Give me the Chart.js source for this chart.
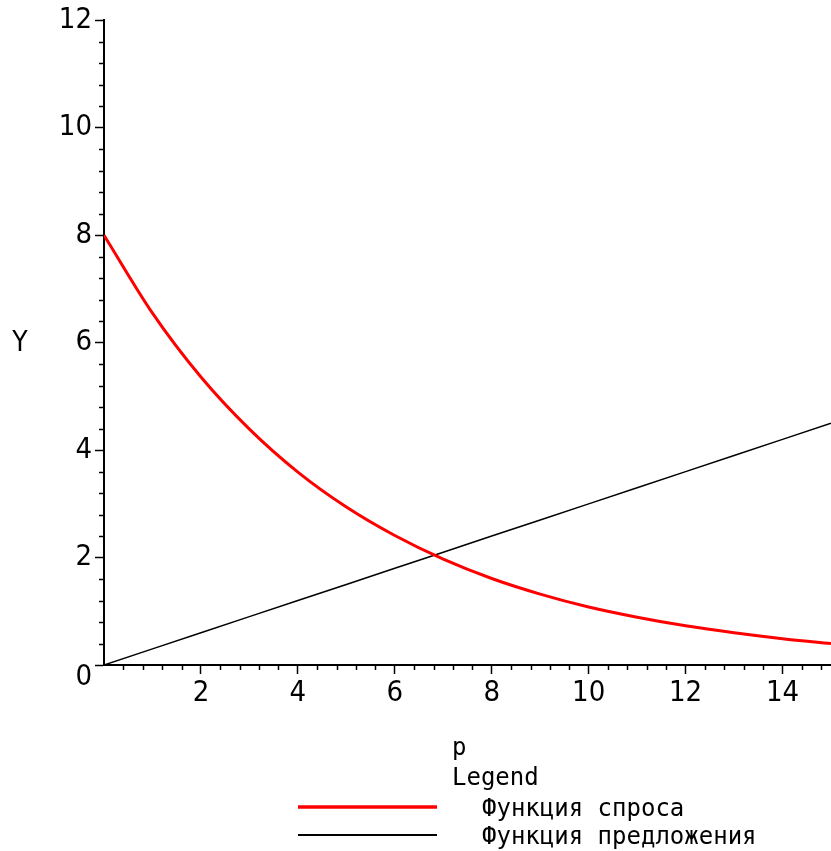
<!DOCTYPE html>
<html>
<head>
<meta charset="utf-8">
<script src="https://cdn.jsdelivr.net/npm/chart.js@4.4.1/dist/chart.umd.min.js"></script>
<style>
  body { margin: 0; background: #fff; }
  canvas { display: block; }
</style>
</head>
<body>
<canvas id="grafico" width="831" height="851"></canvas>
<script>
// p values and the two functions read at each p
const precos = [0, 1, 2, 3, 4, 5, 6, 7, 8, 9, 10, 11, 12, 13, 14, 15];
const procura = [8.0, 6.55, 5.36, 4.39, 3.59, 2.94, 2.41, 1.97, 1.61, 1.32, 1.08, 0.89, 0.73, 0.60, 0.49, 0.40];
const oferta = [0, 0.3, 0.6, 0.9, 1.2, 1.5, 1.8, 2.1, 2.4, 2.7, 3.0, 3.3, 3.6, 3.9, 4.2, 4.5];
const nomes = ["Функция спроса", "Функция предложения"];
const tituloX = "p";
const tituloY = "Y";
const tituloLegenda = "Legend";

const fonteNum = "'Liberation Sans Narrow', 'DejaVu Sans Condensed', 'Liberation Sans', sans-serif";
const fonteMono = "'DejaVu Sans Mono', 'Liberation Mono', monospace";

function pontos(ys) {
  return precos.map((p, i) => ({ x: p, y: ys[i] }));
}

function ehMaior(v) {
  return Math.abs(v / 2 - Math.round(v / 2)) < 1e-6;
}

// small ticks every 0.4 between the labelled ones, titles and legend
const tracosMenores = {
  id: 'tracosMenores',
  afterDraw(chart) {
    const ctx = chart.ctx;
    const sx = chart.scales.x, sy = chart.scales.y;
    const a = chart.chartArea;
    ctx.save();
    ctx.strokeStyle = '#000';
    ctx.lineWidth = 1.5;
    ctx.beginPath();
    for (let k = 1; k * 0.4 < sx.max; k++) {
      const v = k * 0.4;
      if (ehMaior(v)) continue;
      const px = Math.round(sx.getPixelForValue(v)) + 0.5;
      ctx.moveTo(px, a.bottom);
      ctx.lineTo(px, a.bottom + 5);
    }
    for (let k = 1; k * 0.4 < sy.max; k++) {
      const v = k * 0.4;
      if (ehMaior(v)) continue;
      const py = Math.round(sy.getPixelForValue(v)) + 0.5;
      ctx.moveTo(a.left, py);
      ctx.lineTo(a.left - 5, py);
    }
    ctx.stroke();

    ctx.fillStyle = '#000';
    ctx.font = '29px ' + fonteNum;
    // the origin label sits a little under the x axis
    ctx.textAlign = 'right';
    ctx.textBaseline = 'middle';
    ctx.fillText('0', a.left - 12, sy.getPixelForValue(0) + 12);

    // axis names
    ctx.font = '28px ' + fonteNum;
    ctx.textAlign = 'center';
    ctx.fillText(tituloY, 20, 344);

    ctx.font = '24px ' + fonteMono;
    ctx.textAlign = 'left';
    ctx.textBaseline = 'alphabetic';
    ctx.fillText(tituloX, 452, 755);
    ctx.fillText(tituloLegenda, 452, 785);

    // legend entries
    chart.data.datasets.forEach((ds, i) => {
      const y = 807 + i * 28;
      ctx.strokeStyle = ds.borderColor;
      ctx.lineWidth = ds.borderWidth + 0.5;
      ctx.beginPath();
      ctx.moveTo(298, y);
      ctx.lineTo(437, y);
      ctx.stroke();
      ctx.fillText(ds.label, 482, y + 9);
    });
    ctx.restore();
  }
};

const ctx = document.getElementById('grafico').getContext('2d');
const grafico = new Chart(ctx, {
  type: 'line',
  data: {
    datasets: [{
      label: nomes[0],
      data: pontos(procura),
      borderColor: '#ff0000',
      borderWidth: 3,
      pointRadius: 0,
      cubicInterpolationMode: 'monotone'
    }, {
      label: nomes[1],
      data: pontos(oferta),
      borderColor: '#000000',
      borderWidth: 1.5,
      pointRadius: 0
    }]
  },
  options: {
    responsive: false,
    animation: false,
    layout: { padding: { top: 20, right: 0, left: 0, bottom: 0 } },
    plugins: {
      legend: { display: false },
      tooltip: { enabled: false }
    },
    scales: {
      x: {
        type: 'linear',
        min: 0,
        max: 15,
        afterFit(scale) { scale.height = 186; },
        border: { display: true, color: '#000', width: 2 },
        grid: {
          drawOnChartArea: false, drawTicks: true, tickLength: 9, tickWidth: 1.5,
          tickColor: (c) => c.tick && c.tick.value === 0 ? 'rgba(0,0,0,0)' : '#000'
        },
        ticks: {
          stepSize: 2,
          includeBounds: false,
          autoSkip: false,
          maxRotation: 0,
          padding: 2,
          color: '#000',
          font: { family: fonteNum, size: 29 },
          callback: (v) => v === 0 ? '' : String(v)
        }
      },
      y: {
        min: 0,
        max: 12,
        afterFit(scale) { scale.width = 104; },
        border: { display: true, color: '#000', width: 2 },
        grid: { drawOnChartArea: false, drawTicks: true, tickLength: 9, tickColor: '#000', tickWidth: 1.5 },
        ticks: {
          stepSize: 2,
          autoSkip: false,
          padding: 3,
          color: '#000',
          font: { family: fonteNum, size: 29 },
          callback: (v) => v === 0 ? '' : String(v)
        }
      }
    }
  },
  plugins: [tracosMenores]
});
</script>
</body>
</html>
